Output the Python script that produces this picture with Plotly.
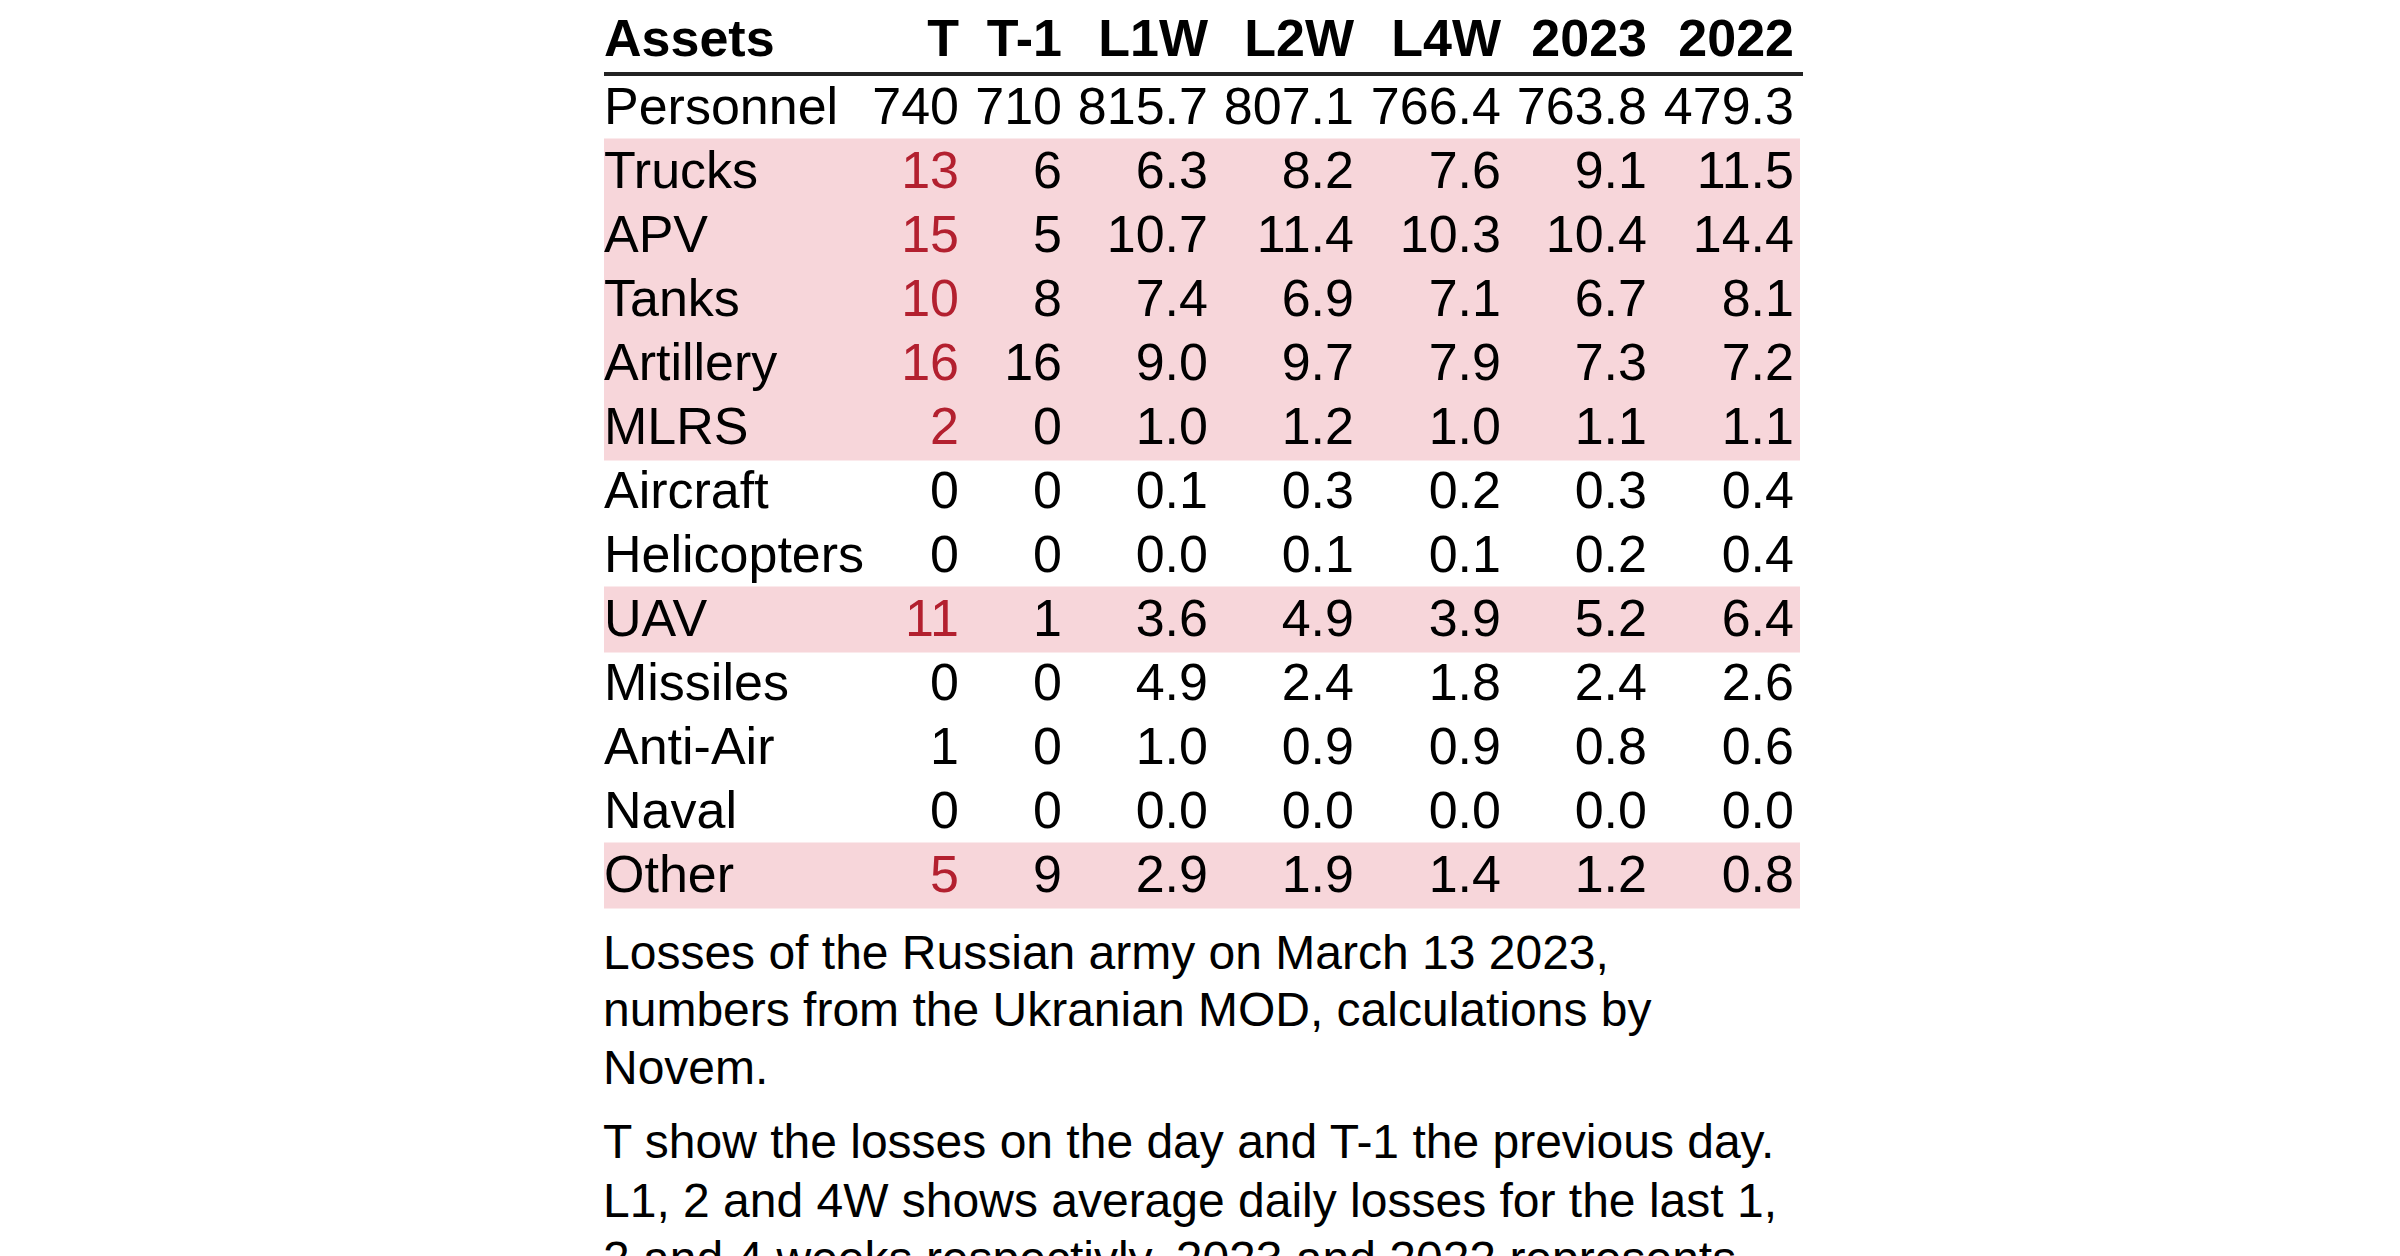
import plotly.graph_objects as go

# Table data: losses of the Russian army, March 13 2023
assets = ['Personnel', 'Trucks', 'APV', 'Tanks', 'Artillery', 'MLRS', 'Aircraft',
          'Helicopters', 'UAV', 'Missiles', 'Anti-Air', 'Naval', 'Other']
t_day = [740, 13, 15, 10, 16, 2, 0, 0, 11, 0, 1, 0, 5]
t_prev = [710, 6, 5, 8, 16, 0, 0, 0, 1, 0, 0, 0, 9]
l1w = [815.7, 6.3, 10.7, 7.4, 9.0, 1.0, 0.1, 0.0, 3.6, 4.9, 1.0, 0.0, 2.9]
l2w = [807.1, 8.2, 11.4, 6.9, 9.7, 1.2, 0.3, 0.1, 4.9, 2.4, 0.9, 0.0, 1.9]
l4w = [766.4, 7.6, 10.3, 7.1, 7.9, 1.0, 0.2, 0.1, 3.9, 1.8, 0.9, 0.0, 1.4]
y2023 = [763.8, 9.1, 10.4, 6.7, 7.3, 1.1, 0.3, 0.2, 5.2, 2.4, 0.8, 0.0, 1.2]
y2022 = [479.3, 11.5, 14.4, 8.1, 7.2, 1.1, 0.4, 0.4, 6.4, 2.6, 0.6, 0.0, 0.8]

headers = ['Assets', 'T', 'T-1', 'L1W', 'L2W', 'L4W', '2023', '2022']

notes = [
    'Losses of the Russian army on March 13 2023,',
    'numbers from the Ukranian MOD, calculations by',
    'Novem.',
    'T show the losses on the day and T-1 the previous day.',
    'L1, 2 and 4W shows average daily losses for the last 1,',
    '2 and 4 weeks respectivly. 2023 and 2022 represents',
]

# Layout settings (screen pixels, canvas 2400 x 1256)
W, H = 2400, 1256
PAGE_MARGIN = 8          # default body margin of the html page
FONT = 'Liberation Sans, Arial, sans-serif'
TABLE_LEFT, TABLE_RIGHT = 604, 1800
COL_RIGHT = [959, 1062, 1208, 1354, 1501, 1647, 1794]
ROW0_PX, ROW_PITCH = 107.5, 64.0
TEXT_SHIFT = 0.05        # row units, text sits a bit lower than the point
HEADER_Y = -1.06
RULE_PX = 74
NOTE_X = 601
NOTE_PX = [952, 1009, 1067, 1141, 1200, 1258]
PINK = '#f7d6da'
RED = '#b3202f'


def paper_y(px):
    return 1 - (px - PAGE_MARGIN) / H


rows = list(range(len(assets)))
text_rows = [r + TEXT_SHIFT for r in rows]
# Highlight rows where the losses today exceed the last-week average
highlight = [i for i in rows if t_day[i] > l1w[i]]

fig = go.Figure()

# Pink row bands (slightly overlapping so no seams show between rows)
fig.add_trace(go.Bar(
    y=highlight,
    x=[TABLE_RIGHT - TABLE_LEFT] * len(highlight),
    base=TABLE_LEFT,
    orientation='h',
    width=1.03,
    marker=dict(color=PINK, line=dict(width=0)),
    hoverinfo='skip',
))

# Header row
fig.add_trace(go.Scatter(
    x=[TABLE_LEFT] + COL_RIGHT,
    y=[HEADER_Y + TEXT_SHIFT] * len(headers),
    text=['<b>%s</b>' % h for h in headers],
    mode='text',
    textposition=['middle right'] + ['middle left'] * (len(headers) - 1),
    textfont=dict(family=FONT, size=52, color='#000000'),
    hoverinfo='skip',
))

# Asset names
fig.add_trace(go.Scatter(
    x=[TABLE_LEFT] * len(assets),
    y=text_rows,
    text=assets,
    mode='text',
    textposition='middle right',
    textfont=dict(family=FONT, size=52, color='#000000'),
    hoverinfo='skip',
))

# Numeric columns
columns = [t_day, t_prev, l1w, l2w, l4w, y2023, y2022]
for c, values in enumerate(columns):
    if c < 2:
        labels = ['%d' % v for v in values]
    else:
        labels = ['%.1f' % v for v in values]
    if c == 0:
        colors = [RED if i in highlight else '#000000' for i in rows]
    else:
        colors = '#000000'
    fig.add_trace(go.Scatter(
        x=[COL_RIGHT[c]] * len(values),
        y=text_rows,
        text=labels,
        mode='text',
        textposition='middle left',
        textfont=dict(family=FONT, size=52, color=colors),
        hoverinfo='skip',
    ))

# Rule under the header
fig.add_shape(type='line', xref='x', yref='paper',
              x0=TABLE_LEFT, x1=TABLE_RIGHT + 3,
              y0=paper_y(RULE_PX), y1=paper_y(RULE_PX),
              line=dict(color='#222222', width=4))

# Footnote lines
for line, px in zip(notes, NOTE_PX):
    fig.add_annotation(
        x=NOTE_X, xref='x', xanchor='left',
        y=paper_y(px), yref='paper', yanchor='middle',
        text=line, showarrow=False,
        font=dict(family=FONT, size=48, color='#000000'),
    )

top = -(ROW0_PX - PAGE_MARGIN) / ROW_PITCH
fig.update_layout(
    width=W,
    height=H,
    margin=dict(l=0, r=0, t=0, b=0),
    paper_bgcolor='white',
    plot_bgcolor='white',
    showlegend=False,
    xaxis=dict(range=[PAGE_MARGIN, W + PAGE_MARGIN], visible=False, fixedrange=True),
    yaxis=dict(range=[top + H / ROW_PITCH, top], visible=False, fixedrange=True),
)

fig.write_html('out.html')
